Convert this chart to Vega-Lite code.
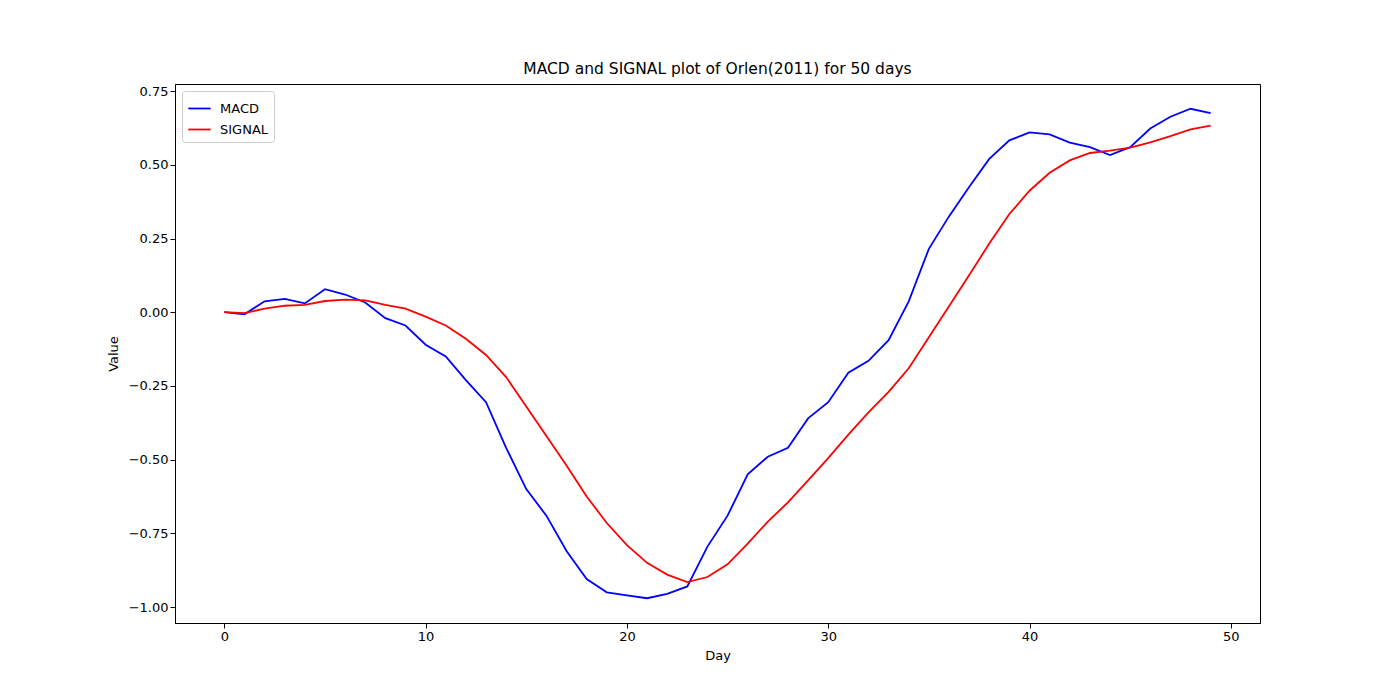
{
  "$schema": "https://vega.github.io/schema/vega-lite/v6.json",
  "width": 1085,
  "height": 539,
  "autosize": {"type": "none"},
  "padding": {"left": 175, "top": 84, "right": 140, "bottom": 77},
  "background": "white",
  "title": {"text": "MACD and SIGNAL plot of Orlen(2011) for 50 days", "font": "DejaVu Sans", "fontSize": 15.5, "fontWeight": "normal", "offset": 7},
  "config": {
    "view": {"stroke": "black", "strokeWidth": 1},
    "axis": {"grid": false, "labelFont": "DejaVu Sans", "labelFontSize": 13, "titleFont": "DejaVu Sans", "titleFontSize": 13, "titleFontWeight": "normal", "domainColor": "black", "tickColor": "black", "labelColor": "black", "titleColor": "black", "tickSize": 5}
  },
  "data": {"values": [
    {"day":0,"MACD":0,"SIGNAL":0},{"day":1,"MACD":-0.007,"SIGNAL":-0.003},{"day":2,"MACD":0.037,"SIGNAL":0.012},
    {"day":3,"MACD":0.045,"SIGNAL":0.022},{"day":4,"MACD":0.03,"SIGNAL":0.025},{"day":5,"MACD":0.078,"SIGNAL":0.038},
    {"day":6,"MACD":0.06,"SIGNAL":0.043},{"day":7,"MACD":0.033,"SIGNAL":0.04},{"day":8,"MACD":-0.02,"SIGNAL":0.025},
    {"day":9,"MACD":-0.045,"SIGNAL":0.012},{"day":10,"MACD":-0.11,"SIGNAL":-0.015},{"day":11,"MACD":-0.15,"SIGNAL":-0.045},
    {"day":12,"MACD":-0.23,"SIGNAL":-0.09},{"day":13,"MACD":-0.305,"SIGNAL":-0.145},{"day":14,"MACD":-0.46,"SIGNAL":-0.22},
    {"day":15,"MACD":-0.6,"SIGNAL":-0.32},{"day":16,"MACD":-0.69,"SIGNAL":-0.42},{"day":17,"MACD":-0.81,"SIGNAL":-0.52},
    {"day":18,"MACD":-0.905,"SIGNAL":-0.625},{"day":19,"MACD":-0.95,"SIGNAL":-0.715},{"day":20,"MACD":-0.96,"SIGNAL":-0.79},
    {"day":21,"MACD":-0.97,"SIGNAL":-0.85},{"day":22,"MACD":-0.955,"SIGNAL":-0.89},{"day":23,"MACD":-0.93,"SIGNAL":-0.915},
    {"day":24,"MACD":-0.795,"SIGNAL":-0.898},{"day":25,"MACD":-0.69,"SIGNAL":-0.855},{"day":26,"MACD":-0.55,"SIGNAL":-0.785},
    {"day":27,"MACD":-0.49,"SIGNAL":-0.71},{"day":28,"MACD":-0.46,"SIGNAL":-0.645},{"day":29,"MACD":-0.36,"SIGNAL":-0.57},
    {"day":30,"MACD":-0.305,"SIGNAL":-0.495},{"day":31,"MACD":-0.205,"SIGNAL":-0.415},{"day":32,"MACD":-0.165,"SIGNAL":-0.34},
    {"day":33,"MACD":-0.095,"SIGNAL":-0.27},{"day":34,"MACD":0.037,"SIGNAL":-0.19},{"day":35,"MACD":0.215,"SIGNAL":-0.085},
    {"day":36,"MACD":0.325,"SIGNAL":0.02},{"day":37,"MACD":0.425,"SIGNAL":0.125},{"day":38,"MACD":0.52,"SIGNAL":0.233},
    {"day":39,"MACD":0.583,"SIGNAL":0.333},{"day":40,"MACD":0.61,"SIGNAL":0.412},{"day":41,"MACD":0.603,"SIGNAL":0.473},
    {"day":42,"MACD":0.575,"SIGNAL":0.515},{"day":43,"MACD":0.56,"SIGNAL":0.54},{"day":44,"MACD":0.533,"SIGNAL":0.548},
    {"day":45,"MACD":0.56,"SIGNAL":0.558},{"day":46,"MACD":0.623,"SIGNAL":0.576},{"day":47,"MACD":0.663,"SIGNAL":0.597},
    {"day":48,"MACD":0.69,"SIGNAL":0.62},{"day":49,"MACD":0.675,"SIGNAL":0.633}
  ]},
  "transform": [{"fold": ["MACD", "SIGNAL"], "as": ["series", "value"]}],
  "mark": {"type": "line", "strokeWidth": 1.8, "clip": true},
  "encoding": {
    "x": {"field": "day", "type": "quantitative", "title": "Day", "scale": {"domain": [-2.45, 51.45], "nice": false, "zero": false}, "axis": {"values": [0, 10, 20, 30, 40, 50], "format": "d", "titlePadding": 6}},
    "y": {"field": "value", "type": "quantitative", "title": "Value", "scale": {"domain": [-1.054, 0.774], "nice": false}, "axis": {"values": [-1, -0.75, -0.5, -0.25, 0, 0.25, 0.5, 0.75], "format": ".2f", "titlePadding": 8}},
    "color": {"field": "series", "type": "nominal", "scale": {"domain": ["MACD", "SIGNAL"], "range": ["blue", "red"]},
      "legend": {"title": null, "orient": "top-left", "offset": 7, "strokeColor": "#cccccc", "fillColor": "white", "padding": 5, "cornerRadius": 3, "labelFont": "DejaVu Sans", "labelFontSize": 13, "symbolType": "stroke", "symbolSize": 500, "symbolStrokeWidth": 1.8, "rowPadding": 1, "labelOffset": 8}}
  }
}
